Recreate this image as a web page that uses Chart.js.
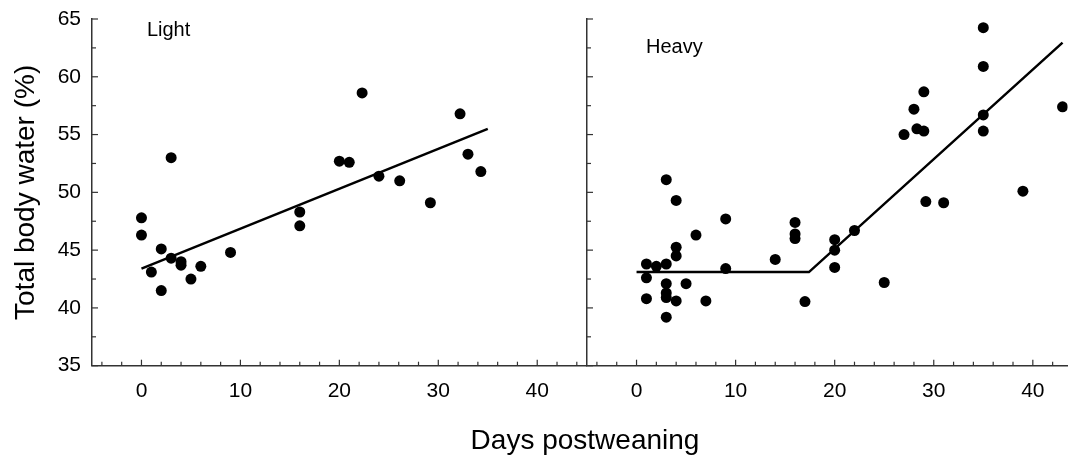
<!DOCTYPE html>
<html>
<head>
<meta charset="utf-8">
<script src="https://cdn.jsdelivr.net/npm/chart.js@4/dist/chart.umd.min.js"></script>
<style>
  body { margin: 0; background: #fff; }
  #wrap { position: relative; width: 1073px; height: 458px; overflow: hidden; }
  .pane { position: absolute; top: 0; height: 458px; }
  #xtitle { position: absolute; left: 385px; width: 400px; top: 424px; text-align: center;
            font-family: "Liberation Sans", Arial, sans-serif; font-size: 28px; color: #000; }
</style>
</head>
<body>
<div id="wrap">
  <div class="pane" style="left:0; width:600px;"><canvas id="light"></canvas></div>
  <div class="pane" style="left:580px; width:493px;"><canvas id="heavy"></canvas></div>
  <div id="xtitle">Days postweaning</div>
</div>
<script>
// values

// Light group
var lightDays  = [0, 0, 1, 2, 2, 3, 3, 4, 4, 5, 6, 9, 16, 16, 20, 21, 22.3, 24, 26.1, 29.2, 32.2, 33, 34.3];
var lightWater = [47.8, 46.3, 43.1, 45.1, 41.5, 53.0, 44.3, 44.0, 43.7, 42.5, 43.6, 44.8, 48.3, 47.1, 52.7, 52.6, 58.6, 51.4, 51.0, 49.1, 56.8, 53.3, 51.8];
var lightFitX  = [0, 35];
var lightFitY  = [43.4, 55.5];

// Heavy group
var heavyDays  = [1, 1, 1, 2, 3, 3, 3, 3, 3, 3, 4, 4, 4, 4, 5, 6, 7, 9, 9,
                  14, 16, 16, 16, 17, 20, 20, 20, 22, 25, 27, 28, 28.3, 29, 29, 29.2, 31,
                  35, 35, 35, 35, 39, 43];
var heavyWater = [43.8, 42.6, 40.8, 43.6, 43.8, 42.1, 41.3, 40.9, 39.2, 51.1, 45.25, 44.5, 40.6, 49.3, 42.1, 46.3, 40.6, 47.7, 43.4,
                  44.2, 47.4, 46.4, 46.0, 40.55, 45.9, 45.0, 43.5, 46.7, 42.2, 55.0, 57.2, 55.5, 55.3, 58.7, 49.2, 49.1,
                  64.25, 60.9, 56.7, 55.3, 50.1, 57.4];
var heavyFitX  = [0, 17.4, 43];
var heavyFitY  = [43.1, 43.1, 62.95];

var xTicks = [0, 10, 20, 30, 40];
var yTicks = [35, 40, 45, 50, 55, 60, 65];

var fontName = "'Liberation Sans', Arial, sans-serif";

function toPoints(xs, ys) {
    var pts = [];
    for (var i = 0; i < xs.length; i++) {
        pts.push({x: xs[i], y: ys[i]});
    }
    return pts;
}

// small tick marks pointing into the plot, like the original figure
var innerTicks = {
    id: 'innerTicks',
    afterDraw: function(chart) {
        var ctx = chart.ctx;
        var area = chart.chartArea;
        ctx.save();
        ctx.strokeStyle = '#333';
        ctx.lineWidth = 1.2;
        var xs = chart.scales.x;
        for (var v = Math.ceil(xs.min / 2) * 2; v <= xs.max; v += 2) {
            var px = xs.getPixelForValue(v);
            var len = (v % 10 === 0) ? 6 : 4;
            ctx.beginPath();
            ctx.moveTo(px, area.bottom);
            ctx.lineTo(px, area.bottom - len);
            ctx.stroke();
        }
        var ys = chart.scales.y;
        for (var w = ys.min; w <= ys.max; w += 2.5) {
            var py = ys.getPixelForValue(w);
            var l2 = (w % 5 === 0) ? 6 : 4;
            ctx.beginPath();
            ctx.moveTo(area.left, py);
            ctx.lineTo(area.left + l2, py);
            ctx.stroke();
        }
        ctx.restore();
    }
};

// group name written inside the panel
var panelLabel = {
    id: 'panelLabel',
    afterDraw: function(chart, args, opts) {
        if (!opts.text) return;
        var ctx = chart.ctx;
        ctx.save();
        ctx.fillStyle = '#000';
        ctx.font = '20px ' + fontName;
        ctx.textAlign = 'left';
        ctx.textBaseline = 'alphabetic';
        ctx.fillText(opts.text, chart.scales.x.getPixelForValue(opts.x), chart.scales.y.getPixelForValue(opts.y));
        ctx.restore();
    }
};

function makeChart(id, days, water, fitX, fitY, opt) {
    return new Chart(document.getElementById(id), {
        type: 'scatter',
        data: {
            datasets: [
                {
                    data: toPoints(days, water),
                    pointRadius: 5.5,
                    pointHoverRadius: 5.5,
                    pointBackgroundColor: '#000',
                    pointBorderWidth: 0,
                    showLine: false
                },
                {
                    data: toPoints(fitX, fitY),
                    showLine: true,
                    borderColor: '#000',
                    borderWidth: 2.5,
                    pointRadius: 0,
                    tension: 0
                }
            ]
        },
        options: {
            responsive: true,
            maintainAspectRatio: false,
            animation: false,
            layout: { padding: { top: 19, right: opt.padRight, left: 0, bottom: 0 } },
            scales: {
                x: {
                    type: 'linear',
                    min: -5,
                    max: opt.xMax,
                    afterBuildTicks: function(s) { s.ticks = xTicks.map(function(v) { return {value: v}; }); },
                    afterFit: function(s) { s.height = 92.3; },
                    grid: { display: false },
                    border: { display: true, color: '#333', width: 1.5 },
                    ticks: { color: '#000', padding: 5, maxRotation: 0, font: { family: fontName, size: 21 } }
                },
                y: {
                    type: 'linear',
                    min: 35,
                    max: 65,
                    afterBuildTicks: function(s) { s.ticks = yTicks.map(function(v) { return {value: v}; }); },
                    afterFit: function(s) { s.width = opt.yWidth; },
                    grid: { display: false },
                    border: { display: true, color: '#333', width: 1.5 },
                    ticks: { display: opt.showY, color: '#000', padding: 3, font: { family: fontName, size: 21 } },
                    title: {
                        display: opt.showY,
                        text: 'Total body water (%)',
                        color: '#000',
                        padding: { top: 9, bottom: 0 },
                        font: { family: fontName, size: 28 }
                    }
                }
            },
            plugins: {
                legend: { display: false },
                tooltip: { enabled: false },
                panelLabel: opt.label
            }
        },
        plugins: [innerTicks, panelLabel]
    });
}

makeChart('light', lightDays, lightWater, lightFitX, lightFitY,
    { xMax: 45, padRight: 13.3, yWidth: 92, showY: true, label: { text: 'Light', x: 0.55, y: 63.5 } });

makeChart('heavy', heavyDays, heavyWater, heavyFitX, heavyFitY,
    { xMax: 43.5, padRight: 0, yWidth: 7, showY: false, label: { text: 'Heavy', x: 0.95, y: 62.05 } });
</script>
</body>
</html>
